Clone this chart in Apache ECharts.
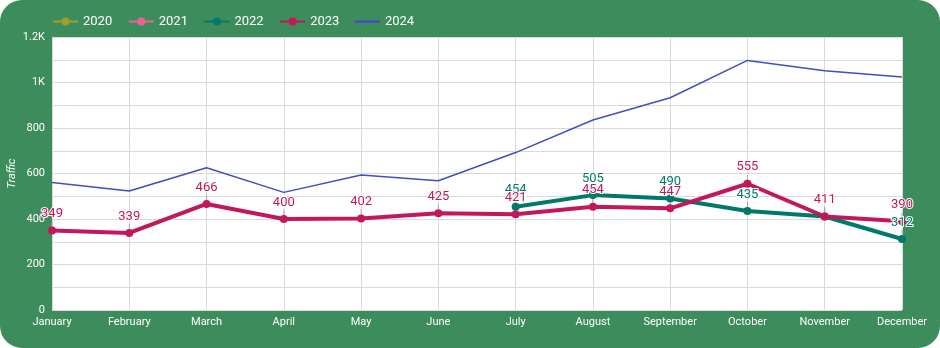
<!DOCTYPE html>
<html><head><meta charset="utf-8">
<script src="https://cdn.jsdelivr.net/npm/echarts@6/dist/echarts.min.js"></script>
<style>
html,body{margin:0;padding:0;background:#fff;}
#wrap{position:absolute;left:0;top:0;width:940px;height:348px;background:#3d8d5c;border-radius:22px;overflow:hidden;}
#c{width:940px;height:348px;}
</style></head><body>
<div id="wrap"><div id="c"></div></div>
<script>
const months = ['January','February','March','April','May','June','July','August','September','October','November','December'];
const s2020 = [];
const s2021 = [];
const s2022 = [null,null,null,null,null,null,454,505,490,435,411,312];
const s2023 = [349,339,466,400,402,425,421,454,447,555,411,390];
const s2024 = [560,523,625,517,593,568,692,835,933,1097,1052,1024];

const chart = echarts.init(document.getElementById('c'));
const font = 'Roboto';
function lineSeries(name, data, color){
  return {
    name, type:'line', data, color,
    symbol:'circle', symbolSize:8, showSymbol:true,
    lineStyle:{width:4, color},
    itemStyle:{color},
    label:{show:true, position:'top', distance:6, color, fontFamily:font, fontSize:13,
      textBorderColor:'#fff', textBorderWidth:2},
    labelLine:{show:true, lineStyle:{color:'#aaa', width:1}},
    labelLayout:{moveOverlap:'shiftY'},
    connectNulls:false, z:3
  };
}
chart.setOption({
  animation:false,
  textStyle:{fontFamily:font},
  legend:{left:47, top:10, itemWidth:25, itemHeight:10, itemGap:15.5,
    textStyle:{color:'#fff', fontSize:13, fontFamily:font},
    data:['2020','2021','2022','2023',{name:'2024', icon:'path://M0,0L10,0L10,1L0,1Z'}]},
  grid:{left:52, right:38, top:37, bottom:38, show:true, backgroundColor:'#fff', borderWidth:0,
    containLabel:false, outerBoundsMode:'none'},
  xAxis:{type:'category', data:months, boundaryGap:false,
    axisLine:{show:false}, axisTick:{show:false},
    axisLabel:{color:'#fff', fontSize:11, margin:7, fontFamily:font},
    splitLine:{show:true, lineStyle:{color:'#d9d9d9', width:1}}},
  yAxis:{type:'value', min:0, max:1200, interval:100,
    name:'Traffic', nameLocation:'middle', nameGap:34, nameRotate:90, nameMoveOverlap:false,
    nameTextStyle:{color:'#fff', fontStyle:'italic', fontSize:11, fontFamily:font},
    axisLine:{show:false}, axisTick:{show:false},
    axisLabel:{color:'#fff', fontSize:11, margin:7, fontFamily:font,
      formatter:v=> v%200!==0 ? '' : (v>=1000 ? (v/1000)+'K' : String(v))},
    splitLine:{lineStyle:{color:'#d9d9d9', width:1}}},
  series:[
    lineSeries('2020', s2020, '#a59d2a'),
    lineSeries('2021', s2021, '#f06292'),
    lineSeries('2022', s2022, '#00796b'),
    lineSeries('2023', s2023, '#c2185b'),
    {name:'2024', type:'line', data:s2024, color:'#3f4fbf', showSymbol:false, symbol:'none',
      lineStyle:{width:1.5, color:'#3f4fbf'}, z:2}
  ]
});
</script>
</body></html>
